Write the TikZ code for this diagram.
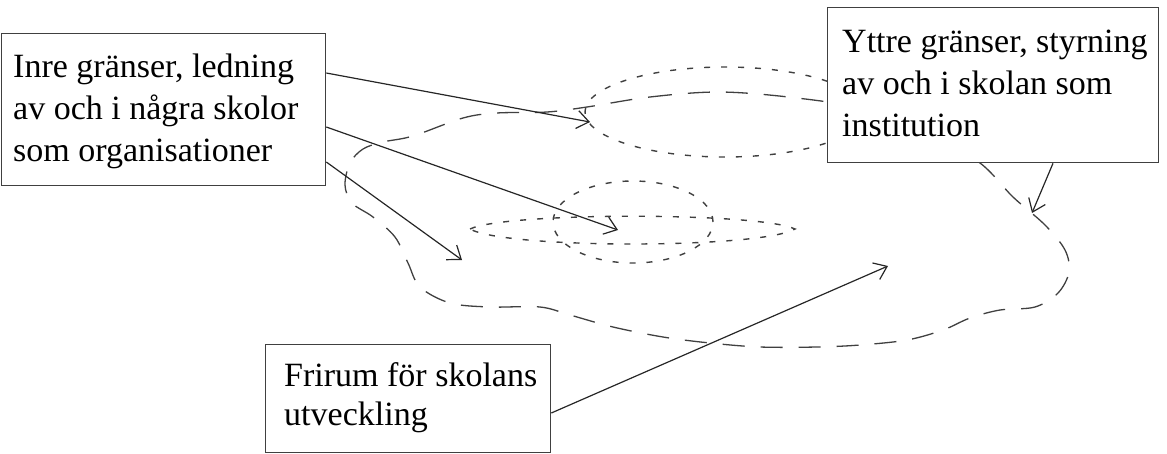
\documentclass[tikz,border=0pt]{standalone}
\usepackage{fontspec}
\setmainfont{Liberation Serif}
\usetikzlibrary{arrows.meta,calc}
\begin{document}
\begin{tikzpicture}[x=1pt,y=-1pt,
 frame/.style={draw=black!75, line width=1.3pt, fill=white, anchor=north west, inner sep=0pt},
 txt/.style={anchor=north west, inner sep=0pt, align=left, font=\fontsize{34}{42}\selectfont},
 arr/.style={line width=1.2pt, draw=black!85, -{Straight Barb[length=12pt,width=18pt,line width=1.2pt]}},
 dotline/.style={line width=1.4pt, draw=black!75, dash pattern=on 6pt off 11pt},
 dashline/.style={line width=1.3pt, draw=black!75, dash pattern=on 22pt off 16pt}]
\useasboundingbox (0,0) rectangle (1167,453);
% dotted shapes
\draw[dotline] (725,112) ellipse [x radius=140pt, y radius=45pt];
\draw[dotline] (633,222) ellipse [x radius=80pt, y radius=41pt];
\draw[dotline] (470,229) .. controls (505,212) and (760,212) .. (795,229)
  .. controls (760,249) and (505,249) .. (470,229) -- cycle;
% dashed blob
\draw[dashline] plot[smooth cycle, tension=0.55] coordinates {
 (587,107) (650,97) (720,92) (797,98) (870,110) (930,135) (980,163) (1013,197)
 (1045,225) (1065,250) (1069,272) (1058,293) (1035,307) (1000,310) (970,318)
 (943,330) (907,340) (860,345) (817,347) (760,347) (710,343) (663,337) (613,327)
 (570,315) (540,307) (490,307) (450,303) (420,287) (408,263) (395,237) (373,217)
 (352,203) (345,185) (350,163) (363,149) (383,142) (413,136) (463,118) (497,113)
 (547,112)};
% boxes
\node[frame, minimum width=324pt, minimum height=152pt] (inre) at (1,33) {};
\node[txt] (inretxt) at (13,54) {Inre gränser, ledning\\av och i några skolor\\som organisationer};
\node[frame, minimum width=331pt, minimum height=155pt] (yttre) at (827,7) {};
\node[txt] (yttretxt) at (842,30) {Yttre gränser, styrning\\av och i skolan som\\institution};
\node[frame, minimum width=285pt, minimum height=108pt] (frirum) at (265,344) {};
\node[txt, font=\fontsize{34}{39}\selectfont] (frirumtxt) at (284,362) {Frirum för skolans\\utveckling};
% targets
\coordinate (t1) at (590,122);
\coordinate (t2) at (618,230);
\coordinate (t3) at (462,260);
\coordinate (t4) at (1032,213);
\coordinate (t5) at (888,266);
% arrows
\draw[arr] (inre.east |- 0,73) -- (t1);
\draw[arr] (inre.east |- 0,127) -- (t2);
\draw[arr] (inre.east |- 0,162) -- (t3);
\draw[arr] (yttre.south -| 1053,0) -- (t4);
\draw[arr] (frirum.east |- 0,413) -- (t5);
\end{tikzpicture}
\end{document}
